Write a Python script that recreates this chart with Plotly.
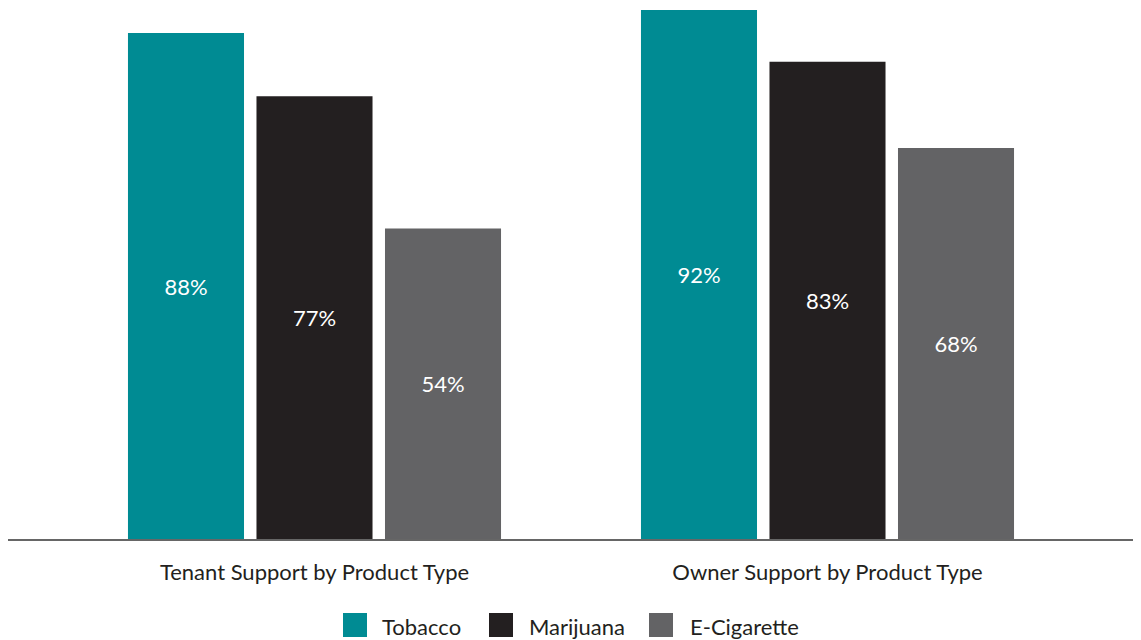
import plotly.graph_objects as go

categories = ["Tenant Support by Product Type", "Owner Support by Product Type"]
series_names = ["Tobacco", "Marijuana", "E-Cigarette"]
tobacco = [88, 92]
marijuana = [77, 83]
ecigarette = [54, 68]
series_values = [tobacco, marijuana, ecigarette]
colors = ["#008B93", "#231F20", "#636365"]

FONT = "Lato"
# page body has an 8px margin; figure sized to fit the visible window
W, H = 1133, 632
ML, MR, MT, MB = 0, 5, 0, 101
plot_w = W - ML - MR
plot_h = H - MT - MB

fig = go.Figure()
for name, vals, col in zip(series_names, series_values, colors):
    fig.add_trace(go.Bar(
        x=categories, y=vals, name=name,
        marker=dict(color=col, line=dict(width=0)),
        text=[f"{v}%" for v in vals],
        textposition="inside", insidetextanchor="middle",
        textfont=dict(color="white", size=22, family=FONT),
        showlegend=False,
    ))

# custom legend (large square swatches)
legend_sq_x = [335, 481, 641]
legend_txt_x = [372, 519, 680]
sq = 24
leg_cy = 617
def px_to_paper_x(px):
    return (px - ML) / plot_w
def py_to_paper_y(py):
    return (MT + plot_h - py) / plot_h

shapes = []
annotations = []
for name, col, sx, tx in zip(series_names, colors, legend_sq_x, legend_txt_x):
    shapes.append(dict(type="rect", xref="paper", yref="paper",
                       x0=px_to_paper_x(sx), x1=px_to_paper_x(sx + sq),
                       y0=py_to_paper_y(leg_cy + sq / 2), y1=py_to_paper_y(leg_cy - sq / 2),
                       fillcolor=col, line=dict(width=0)))
    annotations.append(dict(xref="paper", yref="paper", x=px_to_paper_x(tx), y=py_to_paper_y(leg_cy + 1),
                            text=name, showarrow=False, xanchor="left", yanchor="middle",
                            font=dict(size=22, color="#231F20", family=FONT)))

span = plot_w / 513.0
center_px = 571 - 8  # midpoint between group centres (page px minus body margin)
center_u = 0.5 - (center_px - ML - plot_w / 2) / 513.0
fig.update_layout(
    width=W, height=H,
    margin=dict(l=ML, r=MR, t=MT, b=MB),
    paper_bgcolor="white", plot_bgcolor="white",
    barmode="group", bargap=0.2485, bargroupgap=0.097,
    font=dict(family=FONT, color="#231F20"),
    shapes=shapes, annotations=annotations,
    xaxis=dict(
        range=[center_u - span / 2, center_u + span / 2],
        showline=True, linecolor="#666666", linewidth=2,
        showgrid=False, zeroline=False, ticks="",
        tickfont=dict(size=22, color="#231F20", family=FONT),
        ticklabelstandoff=13,
    ),
    yaxis=dict(range=[0, plot_h / 5.75], visible=False, showgrid=False, zeroline=False),
)

fig.write_html("out.html")
